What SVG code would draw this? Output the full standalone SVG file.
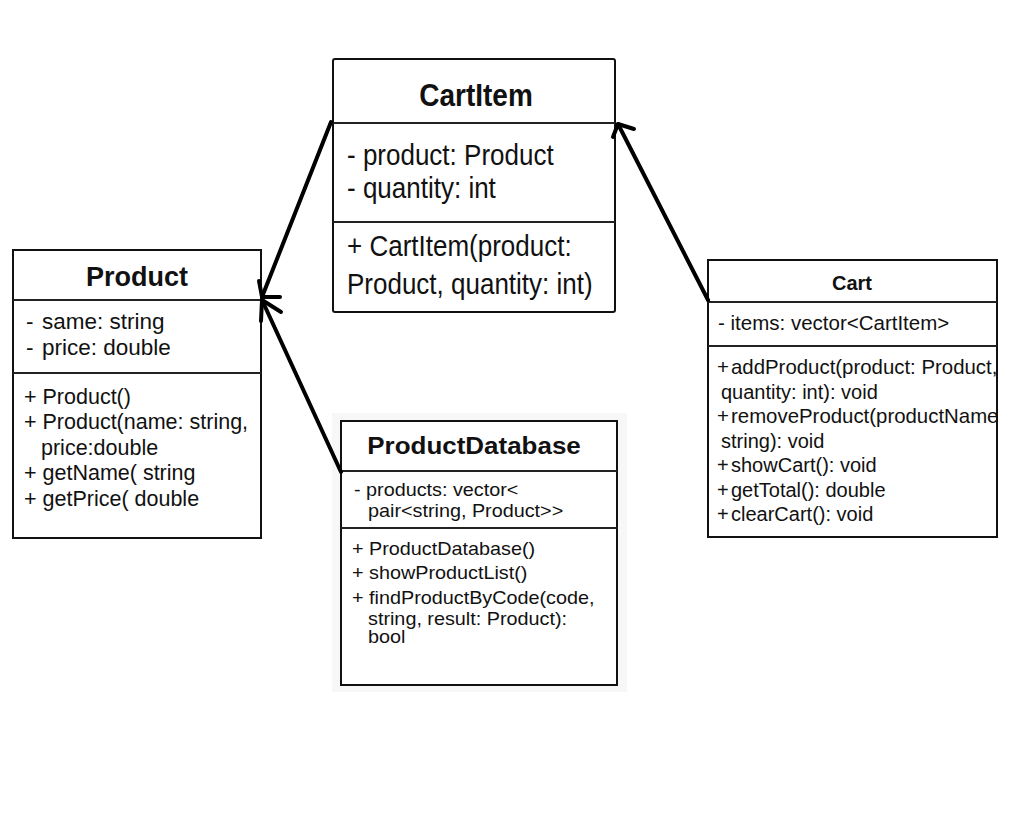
<svg xmlns="http://www.w3.org/2000/svg" width="1035" height="819" viewBox="0 0 1035 819">
<style>
  .box { fill: #ffffff; stroke: #111111; stroke-width: 2; }
  .div { stroke: #222222; stroke-width: 2; }
  .t { font-family: "Liberation Sans", Arial, sans-serif; fill: #111111; }
  .title { font-weight: bold; text-anchor: middle; }
  .conn { stroke: #000000; stroke-width: 4; stroke-linecap: round; stroke-linejoin: round; fill: none; }
</style>
<defs>
  <clipPath id="cartClip"><rect x="708" y="260" width="289" height="277"/></clipPath>
</defs>
<rect width="1035" height="819" fill="#ffffff"/>

<g id="CartItem">
  <rect class="box" x="333" y="59" width="282" height="253" rx="2"/>
  <line class="div" x1="333" y1="123" x2="615" y2="123"/>
  <line class="div" x1="333" y1="222" x2="615" y2="222"/>
  <text class="t title" transform="translate(476,106) scale(1,1.1)" font-size="28">CartItem</text>
  <text class="t" transform="translate(347,165) scale(1,1.1)" font-size="26">- product: Product</text>
  <text class="t" transform="translate(347,198) scale(1,1.1)" font-size="26">- quantity: int</text>
  <text class="t" transform="translate(347,256) scale(1,1.1)" font-size="26">+ CartItem(product:</text>
  <text class="t" transform="translate(347,294) scale(1,1.1)" font-size="26">Product, quantity: int)</text>
</g>

<g id="Product">
  <rect class="box" x="13" y="250" width="248" height="288"/>
  <line class="div" x1="13" y1="300" x2="261" y2="300"/>
  <line class="div" x1="13" y1="373" x2="261" y2="373"/>
  <text class="t title" x="137" y="286" font-size="27">Product</text>
  <text class="t" x="26" y="329" font-size="22.5">-<tspan x="42">same: string</tspan></text>
  <text class="t" x="26" y="355" font-size="22.5">-<tspan x="42">price: double</tspan></text>
  <text class="t" x="24" y="404" font-size="21.5">+ Product()</text>
  <text class="t" x="24" y="429" font-size="21.5">+ Product(name: string,</text>
  <text class="t" x="41" y="455" font-size="21.5">price:double</text>
  <text class="t" x="24" y="480" font-size="21.5">+ getName( string</text>
  <text class="t" x="24" y="506" font-size="21.5">+ getPrice( double</text>
</g>

<g id="Cart">
  <rect class="box" x="708" y="260" width="289" height="277"/>
  <line class="div" x1="708" y1="302" x2="997" y2="302"/>
  <line class="div" x1="708" y1="346" x2="997" y2="346"/>
  <text class="t title" x="852" y="290" font-size="20">Cart</text>
  <g clip-path="url(#cartClip)">
    <text class="t" x="718" y="330" font-size="20.5">- items: vector&lt;CartItem&gt;</text>
    <text class="t" x="717" y="374" font-size="20.4">+<tspan x="731">addProduct(product: Product,</tspan></text>
    <text class="t" x="721" y="399" font-size="20">quantity: int): void</text>
    <text class="t" x="717" y="423" font-size="20.4">+<tspan x="731">removeProduct(productName</tspan></text>
    <text class="t" x="721" y="448" font-size="20">string): void</text>
    <text class="t" x="717" y="472" font-size="20">+<tspan x="731">showCart(): void</tspan></text>
    <text class="t" x="717" y="497" font-size="20">+<tspan x="731">getTotal(): double</tspan></text>
    <text class="t" x="717" y="521" font-size="20">+<tspan x="731">clearCart(): void</tspan></text>
  </g>
</g>

<g id="ProductDatabase">
  <rect x="332" y="413" width="295" height="279" fill="#f7f7f7"/>
  <rect class="box" x="341" y="421" width="276" height="264" fill="#fbfbfb"/>
  <line class="div" x1="341" y1="471" x2="617" y2="471"/>
  <line class="div" x1="341" y1="528" x2="617" y2="528"/>
  <text class="t title" transform="translate(474,454) scale(1.06,1)" font-size="24.5">ProductDatabase</text>
  <text class="t" transform="translate(354,496) scale(1.1,1)" font-size="18">- products: vector&lt;</text>
  <text class="t" transform="translate(368,517) scale(1.1,1)" font-size="18">pair&lt;string, Product&gt;&gt;</text>
  <text class="t" transform="translate(352,555) scale(1.1,1)" font-size="18">+ ProductDatabase()</text>
  <text class="t" transform="translate(352,579) scale(1.1,1)" font-size="18">+ showProductList()</text>
  <text class="t" transform="translate(352,604) scale(1.1,1)" font-size="18">+ findProductByCode(code,</text>
  <text class="t" transform="translate(368,625) scale(1.1,1)" font-size="18">string, result: Product):</text>
  <text class="t" transform="translate(368,643) scale(1.1,1)" font-size="18">bool</text>
</g>

<g id="connectors">
  <!-- CartItem -> Product -->
  <line class="conn" x1="331" y1="122" x2="262" y2="297"/>
  <polyline class="conn" points="259,281 262,297 280,297"/>
  <!-- ProductDatabase -> Product -->
  <line class="conn" x1="341" y1="472" x2="262" y2="300"/>
  <polyline class="conn" points="281,312 262,300 261,321"/>
  <!-- Cart -> CartItem -->
  <line class="conn" x1="708" y1="300" x2="618" y2="124"/>
  <polyline class="conn" points="634,129 618,124 613,137"/>
</g>
</svg>
